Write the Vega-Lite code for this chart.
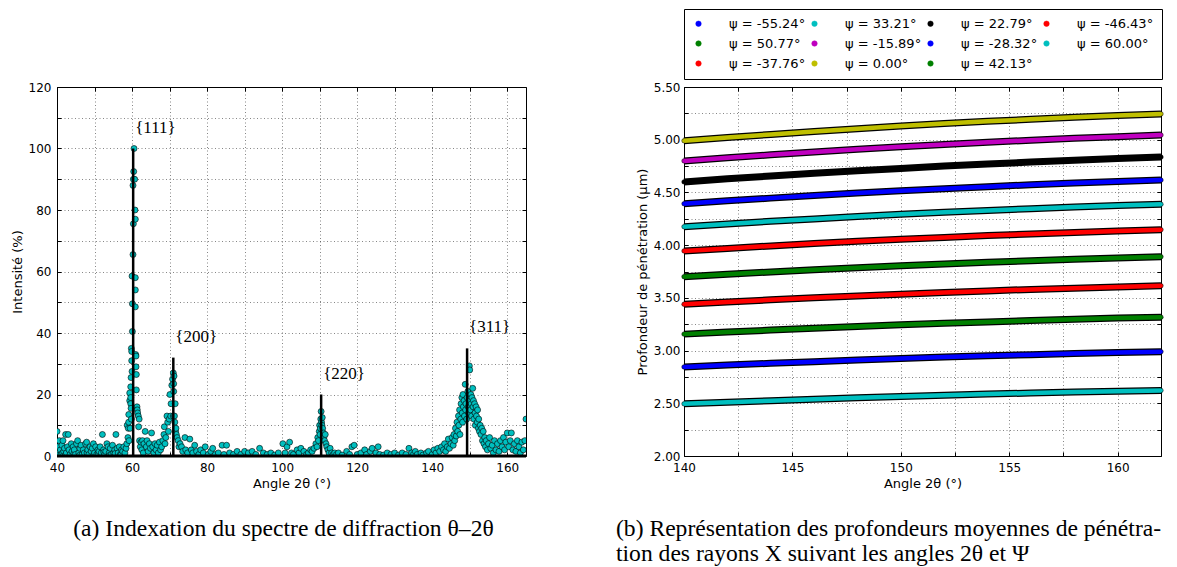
{
  "$schema": "https://vega.github.io/schema/vega-lite/v6.json",
  "background": "white",
  "padding": {"left": 10, "top": 8, "right": 5, "bottom": 5},
  "bounds": "flush",
  "spacing": 158,
  "resolve": {"legend": {"fill": "independent", "color": "independent"}, "scale": {"fill": "independent", "color": "independent"}},
  "config": {
    "view": {"stroke": "black", "strokeWidth": 1},
    "axis": {
      "domain": false,
      "labelFont": "DejaVu Sans", "labelFontSize": 12, "labelColor": "black",
      "labelFlush": false, "labelOverlap": false,
      "titleFont": "DejaVu Sans", "titleFontSize": 13, "titleFontWeight": "normal", "titleColor": "black",
      "tickColor": "black", "tickSize": -4, "tickWidth": 1, "labelPadding": 8,
      "gridColor": "black", "gridOpacity": 0.6, "gridDash": [1, 2.5], "gridWidth": 0.8
    },
    "axisBottom": {"labelPadding": 10},
    "title": {"font": "Liberation Serif", "fontSize": 23.6, "fontWeight": "normal", "color": "black"}
  },
  "datasets": {
    "pics": [
      {"hkl": "{111}", "angle": 60.3, "top": 100},
      {"hkl": "{200}", "angle": 71.0, "top": 32},
      {"hkl": "{220}", "angle": 110.4, "top": 20},
      {"hkl": "{311}", "angle": 149.3, "top": 35}
    ],
    "spectre": [
      {"angle":40.0,"intensity":8},{"angle":40.2,"intensity":3},{"angle":40.4,"intensity":1},{"angle":40.5,"intensity":0.2},{"angle":40.6,"intensity":5},{"angle":40.9,"intensity":2},{"angle":41.1,"intensity":0.5},{"angle":41.3,"intensity":3.5},{"angle":41.5,"intensity":1},{"angle":41.6,"intensity":5},{"angle":41.8,"intensity":1.5},{"angle":42.0,"intensity":2.5},{"angle":42.2,"intensity":0.3},{"angle":42.3,"intensity":7},{"angle":42.5,"intensity":1},{"angle":42.8,"intensity":3},{"angle":43.0,"intensity":7},{"angle":43.2,"intensity":2},{"angle":43.5,"intensity":0.5},{"angle":43.8,"intensity":4},{"angle":44.0,"intensity":1.5},{"angle":44.3,"intensity":3},{"angle":44.5,"intensity":0.8},{"angle":44.6,"intensity":2},{"angle":44.9,"intensity":0.5},{"angle":45.2,"intensity":4},{"angle":45.5,"intensity":5},{"angle":45.8,"intensity":1},{"angle":46.0,"intensity":0.2},{"angle":46.1,"intensity":2.5},{"angle":46.4,"intensity":3.5},{"angle":46.7,"intensity":0.5},{"angle":47.0,"intensity":2},{"angle":47.3,"intensity":1},{"angle":47.6,"intensity":4},{"angle":47.9,"intensity":4.5},{"angle":48.0,"intensity":1},{"angle":48.2,"intensity":2},{"angle":48.5,"intensity":0.5},{"angle":48.8,"intensity":3},{"angle":49.1,"intensity":1.5},{"angle":49.4,"intensity":2.5},{"angle":49.7,"intensity":4},{"angle":49.8,"intensity":0.3},{"angle":50.0,"intensity":1},{"angle":50.3,"intensity":3},{"angle":50.6,"intensity":0.5},{"angle":50.9,"intensity":2},{"angle":51.0,"intensity":0.5},{"angle":51.2,"intensity":1.5},{"angle":51.5,"intensity":3},{"angle":51.8,"intensity":1},{"angle":52.1,"intensity":7},{"angle":52.4,"intensity":2},{"angle":52.5,"intensity":1.2},{"angle":52.7,"intensity":0.5},{"angle":53.0,"intensity":1.5},{"angle":53.3,"intensity":4},{"angle":53.6,"intensity":3},{"angle":53.9,"intensity":1},{"angle":54.0,"intensity":0.2},{"angle":54.2,"intensity":2.5},{"angle":54.5,"intensity":0.5},{"angle":54.8,"intensity":3.5},{"angle":55.1,"intensity":1},{"angle":55.4,"intensity":2},{"angle":55.5,"intensity":0.8},{"angle":55.7,"intensity":7},{"angle":56.0,"intensity":2.5},{"angle":56.3,"intensity":1},{"angle":56.6,"intensity":3},{"angle":56.9,"intensity":0.5},{"angle":57.0,"intensity":0.3},{"angle":57.2,"intensity":2},{"angle":57.5,"intensity":1.5},{"angle":57.8,"intensity":3},{"angle":58.1,"intensity":1},{"angle":58.4,"intensity":2.5},{"angle":58.6,"intensity":4},{"angle":58.7,"intensity":10},{"angle":58.9,"intensity":6},{"angle":59.0,"intensity":9},{"angle":59.1,"intensity":11},{"angle":59.12,"intensity":13.5},{"angle":59.2,"intensity":5},{"angle":59.38,"intensity":20.5},{"angle":59.38,"intensity":18},{"angle":59.5,"intensity":9},{"angle":59.65,"intensity":22.5},{"angle":59.65,"intensity":19},{"angle":59.65,"intensity":17},{"angle":59.74,"intensity":25.5},{"angle":59.74,"intensity":15.5},{"angle":59.82,"intensity":35},{"angle":59.82,"intensity":12},{"angle":59.91,"intensity":31},{"angle":59.91,"intensity":34},{"angle":60.0,"intensity":58.5},{"angle":60.0,"intensity":27.5},{"angle":60.09,"intensity":49.5},{"angle":60.09,"intensity":40.5},{"angle":60.26,"intensity":88},{"angle":60.26,"intensity":65.5},{"angle":60.35,"intensity":90},{"angle":60.35,"intensity":75.5},{"angle":60.44,"intensity":92.5},{"angle":60.53,"intensity":100},{"angle":60.7,"intensity":90},{"angle":60.79,"intensity":80},{"angle":60.88,"intensity":77},{"angle":60.88,"intensity":58},{"angle":60.88,"intensity":54},{"angle":60.88,"intensity":48.5},{"angle":60.97,"intensity":33},{"angle":61.06,"intensity":29},{"angle":61.06,"intensity":32.5},{"angle":61.15,"intensity":26.5},{"angle":61.15,"intensity":21.5},{"angle":61.32,"intensity":16},{"angle":61.4,"intensity":15},{"angle":61.5,"intensity":14},{"angle":61.67,"intensity":13},{"angle":61.76,"intensity":9.5},{"angle":61.9,"intensity":12},{"angle":62.0,"intensity":5},{"angle":62.2,"intensity":3},{"angle":62.4,"intensity":4.5},{"angle":62.6,"intensity":2},{"angle":62.8,"intensity":5},{"angle":63.0,"intensity":1},{"angle":63.2,"intensity":4},{"angle":63.5,"intensity":8},{"angle":63.8,"intensity":3},{"angle":64.0,"intensity":5},{"angle":64.3,"intensity":1.5},{"angle":64.6,"intensity":4},{"angle":64.9,"intensity":2.5},{"angle":65.2,"intensity":7.5},{"angle":65.5,"intensity":3},{"angle":65.8,"intensity":1},{"angle":66.1,"intensity":4},{"angle":66.4,"intensity":2},{"angle":66.7,"intensity":3.5},{"angle":67.0,"intensity":1},{"angle":67.3,"intensity":4.5},{"angle":67.6,"intensity":2},{"angle":67.9,"intensity":3},{"angle":68.2,"intensity":5},{"angle":68.5,"intensity":7},{"angle":68.6,"intensity":9.5},{"angle":68.8,"intensity":4},{"angle":69.0,"intensity":6},{"angle":69.3,"intensity":13},{"angle":69.5,"intensity":11},{"angle":69.7,"intensity":8},{"angle":69.9,"intensity":12},{"angle":70.1,"intensity":20},{"angle":70.3,"intensity":13},{"angle":70.4,"intensity":17},{"angle":70.6,"intensity":23},{"angle":70.8,"intensity":25},{"angle":71.0,"intensity":27},{"angle":71.0,"intensity":13},{"angle":71.1,"intensity":23.5},{"angle":71.1,"intensity":21},{"angle":71.2,"intensity":26},{"angle":71.3,"intensity":13},{"angle":71.4,"intensity":11},{"angle":71.5,"intensity":17},{"angle":71.6,"intensity":8},{"angle":71.7,"intensity":9},{"angle":71.8,"intensity":7},{"angle":72.0,"intensity":6},{"angle":72.3,"intensity":5},{"angle":72.5,"intensity":3},{"angle":72.8,"intensity":4},{"angle":73.2,"intensity":3},{"angle":73.5,"intensity":1.5},{"angle":74.1,"intensity":6},{"angle":74.3,"intensity":2},{"angle":74.8,"intensity":1},{"angle":75.4,"intensity":5.5},{"angle":75.8,"intensity":2},{"angle":76.2,"intensity":1},{"angle":76.7,"intensity":3.5},{"angle":77.2,"intensity":1.5},{"angle":77.8,"intensity":0.5},{"angle":78.3,"intensity":2},{"angle":79.0,"intensity":1},{"angle":79.5,"intensity":3},{"angle":80.3,"intensity":0.5},{"angle":81.0,"intensity":1.5},{"angle":81.5,"intensity":2.5},{"angle":82.2,"intensity":0.5},{"angle":83.0,"intensity":1},{"angle":84.0,"intensity":3.5},{"angle":84.5,"intensity":0.5},{"angle":85.2,"intensity":3.5},{"angle":86.0,"intensity":1},{"angle":87.0,"intensity":0.5},{"angle":88.0,"intensity":1.5},{"angle":89.0,"intensity":0.5},{"angle":90.0,"intensity":1.5},{"angle":91.0,"intensity":1},{"angle":92.0,"intensity":1.5},{"angle":93.0,"intensity":0.5},{"angle":94.0,"intensity":2.5},{"angle":95.0,"intensity":1},{"angle":96.0,"intensity":0.5},{"angle":97.0,"intensity":1},{"angle":98.0,"intensity":0.3},{"angle":99.0,"intensity":1},{"angle":100.2,"intensity":4},{"angle":100.8,"intensity":1},{"angle":101.3,"intensity":3},{"angle":102.0,"intensity":4.5},{"angle":102.5,"intensity":1},{"angle":103.0,"intensity":0.5},{"angle":104.0,"intensity":2},{"angle":104.5,"intensity":1},{"angle":105.0,"intensity":2.5},{"angle":105.8,"intensity":1.5},{"angle":106.5,"intensity":0.5},{"angle":107.0,"intensity":1},{"angle":107.6,"intensity":2},{"angle":108.0,"intensity":1.5},{"angle":108.5,"intensity":2.5},{"angle":109.0,"intensity":4},{"angle":109.3,"intensity":3},{"angle":109.5,"intensity":6},{"angle":109.7,"intensity":5},{"angle":109.9,"intensity":8},{"angle":110.0,"intensity":10},{"angle":110.1,"intensity":7},{"angle":110.2,"intensity":9},{"angle":110.3,"intensity":12},{"angle":110.4,"intensity":14.5},{"angle":110.5,"intensity":11},{"angle":110.6,"intensity":10},{"angle":110.7,"intensity":12.5},{"angle":110.8,"intensity":9},{"angle":111.0,"intensity":7.5},{"angle":111.1,"intensity":6},{"angle":111.3,"intensity":5},{"angle":111.5,"intensity":7},{"angle":111.7,"intensity":4},{"angle":111.9,"intensity":3},{"angle":112.2,"intensity":2},{"angle":112.5,"intensity":1},{"angle":112.8,"intensity":2.5},{"angle":113.2,"intensity":1},{"angle":113.6,"intensity":0.5},{"angle":114.0,"intensity":1},{"angle":114.5,"intensity":0.5},{"angle":115.0,"intensity":1},{"angle":116.0,"intensity":0.3},{"angle":117.2,"intensity":1.5},{"angle":118.0,"intensity":0.5},{"angle":118.6,"intensity":3},{"angle":119.2,"intensity":3.5},{"angle":120.0,"intensity":0.5},{"angle":121.0,"intensity":1},{"angle":122.0,"intensity":2},{"angle":122.5,"intensity":0.5},{"angle":123.5,"intensity":1.5},{"angle":124.0,"intensity":2.5},{"angle":125.0,"intensity":1},{"angle":125.6,"intensity":3},{"angle":126.0,"intensity":0.5},{"angle":127.0,"intensity":0.3},{"angle":128.0,"intensity":1},{"angle":129.0,"intensity":0.5},{"angle":130.0,"intensity":1},{"angle":131.0,"intensity":0.3},{"angle":132.0,"intensity":1},{"angle":133.0,"intensity":0.5},{"angle":133.8,"intensity":2.5},{"angle":134.5,"intensity":1},{"angle":135.0,"intensity":0.5},{"angle":135.5,"intensity":1.5},{"angle":136.0,"intensity":0.5},{"angle":137.0,"intensity":1},{"angle":137.5,"intensity":0.3},{"angle":138.5,"intensity":1},{"angle":139.0,"intensity":1.5},{"angle":140.0,"intensity":0.5},{"angle":140.5,"intensity":2},{"angle":141.0,"intensity":1},{"angle":141.5,"intensity":2.5},{"angle":142.0,"intensity":1.5},{"angle":142.5,"intensity":3},{"angle":143.0,"intensity":2},{"angle":143.3,"intensity":4},{"angle":143.6,"intensity":1.5},{"angle":144.0,"intensity":3},{"angle":144.3,"intensity":5.5},{"angle":144.6,"intensity":2.5},{"angle":145.0,"intensity":4},{"angle":145.3,"intensity":6},{"angle":145.6,"intensity":3.5},{"angle":145.8,"intensity":7},{"angle":146.0,"intensity":5},{"angle":146.2,"intensity":9},{"angle":146.4,"intensity":6.5},{"angle":146.6,"intensity":11},{"angle":146.8,"intensity":8},{"angle":147.0,"intensity":13},{"angle":147.1,"intensity":10},{"angle":147.3,"intensity":15},{"angle":147.4,"intensity":7},{"angle":147.6,"intensity":12},{"angle":147.7,"intensity":17},{"angle":147.9,"intensity":19},{"angle":148.0,"intensity":14},{"angle":148.1,"intensity":11},{"angle":148.2,"intensity":20},{"angle":148.3,"intensity":16},{"angle":148.5,"intensity":18},{"angle":148.6,"intensity":13},{"angle":148.8,"intensity":23.3},{"angle":148.9,"intensity":15},{"angle":149.0,"intensity":17},{"angle":149.2,"intensity":12},{"angle":149.3,"intensity":19},{"angle":149.5,"intensity":21},{"angle":149.6,"intensity":16},{"angle":149.7,"intensity":14},{"angle":149.9,"intensity":29.3},{"angle":150.0,"intensity":28},{"angle":150.1,"intensity":18},{"angle":150.2,"intensity":15},{"angle":150.3,"intensity":20},{"angle":150.4,"intensity":17},{"angle":150.5,"intensity":13},{"angle":150.6,"intensity":19},{"angle":150.8,"intensity":22},{"angle":150.9,"intensity":16},{"angle":151.0,"intensity":18},{"angle":151.1,"intensity":12},{"angle":151.3,"intensity":17},{"angle":151.4,"intensity":14},{"angle":151.5,"intensity":10},{"angle":151.7,"intensity":16},{"angle":151.8,"intensity":13},{"angle":152.0,"intensity":11},{"angle":152.1,"intensity":15},{"angle":152.3,"intensity":9},{"angle":152.4,"intensity":12},{"angle":152.6,"intensity":8},{"angle":152.8,"intensity":10},{"angle":153.0,"intensity":7},{"angle":153.2,"intensity":9},{"angle":153.4,"intensity":5},{"angle":153.6,"intensity":8},{"angle":153.8,"intensity":4},{"angle":154.0,"intensity":6},{"angle":154.2,"intensity":3},{"angle":154.4,"intensity":5},{"angle":154.7,"intensity":2},{"angle":155.0,"intensity":4},{"angle":155.3,"intensity":6},{"angle":155.6,"intensity":2.5},{"angle":156.0,"intensity":3.5},{"angle":156.3,"intensity":1},{"angle":156.6,"intensity":5},{"angle":157.0,"intensity":2},{"angle":157.4,"intensity":4},{"angle":157.8,"intensity":1.5},{"angle":158.2,"intensity":5},{"angle":158.6,"intensity":3},{"angle":159.0,"intensity":6},{"angle":159.3,"intensity":2},{"angle":159.6,"intensity":4.5},{"angle":160.0,"intensity":7.5},{"angle":160.4,"intensity":3},{"angle":160.8,"intensity":5},{"angle":161.1,"intensity":7.5},{"angle":161.5,"intensity":2},{"angle":161.9,"intensity":4},{"angle":162.3,"intensity":1.5},{"angle":162.7,"intensity":5},{"angle":163.1,"intensity":3},{"angle":163.5,"intensity":1},{"angle":163.9,"intensity":4.5},{"angle":164.3,"intensity":2},{"angle":164.7,"intensity":5},{"angle":165.0,"intensity":12}
    ],
    "profondeur": [
      {"psi":"ψ = 0.00°","angle":140,"depth":4.990},{"psi":"ψ = 0.00°","angle":142,"depth":5.021},{"psi":"ψ = 0.00°","angle":144,"depth":5.050},{"psi":"ψ = 0.00°","angle":146,"depth":5.078},{"psi":"ψ = 0.00°","angle":148,"depth":5.105},{"psi":"ψ = 0.00°","angle":150,"depth":5.129},{"psi":"ψ = 0.00°","angle":152,"depth":5.153},{"psi":"ψ = 0.00°","angle":154,"depth":5.174},{"psi":"ψ = 0.00°","angle":156,"depth":5.194},{"psi":"ψ = 0.00°","angle":158,"depth":5.213},{"psi":"ψ = 0.00°","angle":160,"depth":5.230},{"psi":"ψ = 0.00°","angle":162,"depth":5.245},
      {"psi":"ψ = -15.89°","angle":140,"depth":4.799},{"psi":"ψ = -15.89°","angle":142,"depth":4.829},{"psi":"ψ = -15.89°","angle":144,"depth":4.857},{"psi":"ψ = -15.89°","angle":146,"depth":4.884},{"psi":"ψ = -15.89°","angle":148,"depth":4.909},{"psi":"ψ = -15.89°","angle":150,"depth":4.933},{"psi":"ψ = -15.89°","angle":152,"depth":4.955},{"psi":"ψ = -15.89°","angle":154,"depth":4.976},{"psi":"ψ = -15.89°","angle":156,"depth":4.995},{"psi":"ψ = -15.89°","angle":158,"depth":5.013},{"psi":"ψ = -15.89°","angle":160,"depth":5.029},{"psi":"ψ = -15.89°","angle":162,"depth":5.044},
      {"psi":"ψ = 22.79°","angle":140,"depth":4.600},{"psi":"ψ = 22.79°","angle":142,"depth":4.629},{"psi":"ψ = 22.79°","angle":144,"depth":4.656},{"psi":"ψ = 22.79°","angle":146,"depth":4.681},{"psi":"ψ = 22.79°","angle":148,"depth":4.706},{"psi":"ψ = 22.79°","angle":150,"depth":4.728},{"psi":"ψ = 22.79°","angle":152,"depth":4.750},{"psi":"ψ = 22.79°","angle":154,"depth":4.770},{"psi":"ψ = 22.79°","angle":156,"depth":4.788},{"psi":"ψ = 22.79°","angle":158,"depth":4.805},{"psi":"ψ = 22.79°","angle":160,"depth":4.821},{"psi":"ψ = 22.79°","angle":162,"depth":4.835},
      {"psi":"ψ = -28.32°","angle":140,"depth":4.393},{"psi":"ψ = -28.32°","angle":142,"depth":4.420},{"psi":"ψ = -28.32°","angle":144,"depth":4.446},{"psi":"ψ = -28.32°","angle":146,"depth":4.471},{"psi":"ψ = -28.32°","angle":148,"depth":4.494},{"psi":"ψ = -28.32°","angle":150,"depth":4.516},{"psi":"ψ = -28.32°","angle":152,"depth":4.536},{"psi":"ψ = -28.32°","angle":154,"depth":4.555},{"psi":"ψ = -28.32°","angle":156,"depth":4.573},{"psi":"ψ = -28.32°","angle":158,"depth":4.589},{"psi":"ψ = -28.32°","angle":160,"depth":4.604},{"psi":"ψ = -28.32°","angle":162,"depth":4.617},
      {"psi":"ψ = 33.21°","angle":140,"depth":4.175},{"psi":"ψ = 33.21°","angle":142,"depth":4.201},{"psi":"ψ = 33.21°","angle":144,"depth":4.226},{"psi":"ψ = 33.21°","angle":146,"depth":4.249},{"psi":"ψ = 33.21°","angle":148,"depth":4.271},{"psi":"ψ = 33.21°","angle":150,"depth":4.292},{"psi":"ψ = 33.21°","angle":152,"depth":4.311},{"psi":"ψ = 33.21°","angle":154,"depth":4.329},{"psi":"ψ = 33.21°","angle":156,"depth":4.346},{"psi":"ψ = 33.21°","angle":158,"depth":4.361},{"psi":"ψ = 33.21°","angle":160,"depth":4.375},{"psi":"ψ = 33.21°","angle":162,"depth":4.388},
      {"psi":"ψ = -37.76°","angle":140,"depth":3.945},{"psi":"ψ = -37.76°","angle":142,"depth":3.969},{"psi":"ψ = -37.76°","angle":144,"depth":3.993},{"psi":"ψ = -37.76°","angle":146,"depth":4.015},{"psi":"ψ = -37.76°","angle":148,"depth":4.036},{"psi":"ψ = -37.76°","angle":150,"depth":4.055},{"psi":"ψ = -37.76°","angle":152,"depth":4.073},{"psi":"ψ = -37.76°","angle":154,"depth":4.091},{"psi":"ψ = -37.76°","angle":156,"depth":4.106},{"psi":"ψ = -37.76°","angle":158,"depth":4.121},{"psi":"ψ = -37.76°","angle":160,"depth":4.134},{"psi":"ψ = -37.76°","angle":162,"depth":4.147},
      {"psi":"ψ = 42.13°","angle":140,"depth":3.701},{"psi":"ψ = 42.13°","angle":142,"depth":3.724},{"psi":"ψ = 42.13°","angle":144,"depth":3.746},{"psi":"ψ = 42.13°","angle":146,"depth":3.766},{"psi":"ψ = 42.13°","angle":148,"depth":3.786},{"psi":"ψ = 42.13°","angle":150,"depth":3.804},{"psi":"ψ = 42.13°","angle":152,"depth":3.822},{"psi":"ψ = 42.13°","angle":154,"depth":3.838},{"psi":"ψ = 42.13°","angle":156,"depth":3.852},{"psi":"ψ = 42.13°","angle":158,"depth":3.866},{"psi":"ψ = 42.13°","angle":160,"depth":3.879},{"psi":"ψ = 42.13°","angle":162,"depth":3.890},
      {"psi":"ψ = -46.43°","angle":140,"depth":3.439},{"psi":"ψ = -46.43°","angle":142,"depth":3.460},{"psi":"ψ = -46.43°","angle":144,"depth":3.481},{"psi":"ψ = -46.43°","angle":146,"depth":3.500},{"psi":"ψ = -46.43°","angle":148,"depth":3.518},{"psi":"ψ = -46.43°","angle":150,"depth":3.535},{"psi":"ψ = -46.43°","angle":152,"depth":3.551},{"psi":"ψ = -46.43°","angle":154,"depth":3.566},{"psi":"ψ = -46.43°","angle":156,"depth":3.580},{"psi":"ψ = -46.43°","angle":158,"depth":3.592},{"psi":"ψ = -46.43°","angle":160,"depth":3.604},{"psi":"ψ = -46.43°","angle":162,"depth":3.615},
      {"psi":"ψ = 50.77°","angle":140,"depth":3.156},{"psi":"ψ = 50.77°","angle":142,"depth":3.176},{"psi":"ψ = 50.77°","angle":144,"depth":3.194},{"psi":"ψ = 50.77°","angle":146,"depth":3.212},{"psi":"ψ = 50.77°","angle":148,"depth":3.228},{"psi":"ψ = 50.77°","angle":150,"depth":3.244},{"psi":"ψ = 50.77°","angle":152,"depth":3.259},{"psi":"ψ = 50.77°","angle":154,"depth":3.272},{"psi":"ψ = 50.77°","angle":156,"depth":3.285},{"psi":"ψ = 50.77°","angle":158,"depth":3.297},{"psi":"ψ = 50.77°","angle":160,"depth":3.308},{"psi":"ψ = 50.77°","angle":162,"depth":3.317},
      {"psi":"ψ = -55.24°","angle":140,"depth":2.845},{"psi":"ψ = -55.24°","angle":142,"depth":2.863},{"psi":"ψ = -55.24°","angle":144,"depth":2.879},{"psi":"ψ = -55.24°","angle":146,"depth":2.895},{"psi":"ψ = -55.24°","angle":148,"depth":2.910},{"psi":"ψ = -55.24°","angle":150,"depth":2.924},{"psi":"ψ = -55.24°","angle":152,"depth":2.938},{"psi":"ψ = -55.24°","angle":154,"depth":2.950},{"psi":"ψ = -55.24°","angle":156,"depth":2.961},{"psi":"ψ = -55.24°","angle":158,"depth":2.972},{"psi":"ψ = -55.24°","angle":160,"depth":2.982},{"psi":"ψ = -55.24°","angle":162,"depth":2.990},
      {"psi":"ψ = 60.00°","angle":140,"depth":2.495},{"psi":"ψ = 60.00°","angle":142,"depth":2.510},{"psi":"ψ = 60.00°","angle":144,"depth":2.525},{"psi":"ψ = 60.00°","angle":146,"depth":2.539},{"psi":"ψ = 60.00°","angle":148,"depth":2.552},{"psi":"ψ = 60.00°","angle":150,"depth":2.565},{"psi":"ψ = 60.00°","angle":152,"depth":2.576},{"psi":"ψ = 60.00°","angle":154,"depth":2.587},{"psi":"ψ = 60.00°","angle":156,"depth":2.597},{"psi":"ψ = 60.00°","angle":158,"depth":2.606},{"psi":"ψ = 60.00°","angle":160,"depth":2.615},{"psi":"ψ = 60.00°","angle":162,"depth":2.622}
    ]
  },
  "hconcat": [
    {
      "width": 469,
      "height": 369,
      "title": {"text": "(a) Indexation du spectre de diffraction θ–2θ", "orient": "bottom", "anchor": "middle", "frame": "group", "dx": -8, "offset": 27},
      "layer": [
        {
          "data": {"name": "spectre"},
          "mark": {"type": "point", "filled": true, "fill": "#00bfbf", "stroke": "black", "strokeWidth": 0.6, "size": 36, "opacity": 1, "clip": true},
          "encoding": {
            "x": {"field": "angle", "type": "quantitative", "scale": {"domain": [40, 165], "nice": false, "zero": false},
                  "axis": {"orient": "bottom", "title": "Angle 2θ (°)", "values": [40,50,60,70,80,90,100,110,120,130,140,150,160], "labelExpr": "datum.value % 20 == 0 ? datum.label : ''", "grid": true}},
            "y": {"field": "intensity", "type": "quantitative", "scale": {"domain": [0, 120], "nice": false},
                  "axis": {"orient": "left", "title": "Intensité (%)", "labelPadding": 10, "values": [0,10,20,30,40,50,60,70,80,90,100,110,120], "labelExpr": "datum.value % 20 == 0 ? datum.label : ''", "grid": true}}
          }
        },
        {
          "data": {"values": [{}]},
          "mark": {"type": "rule", "color": "black", "strokeWidth": 3},
          "encoding": {"y": {"datum": 0, "type": "quantitative", "axis": null}}
        },
        {
          "data": {"name": "pics"},
          "mark": {"type": "rule", "color": "black", "strokeWidth": 2.5},
          "encoding": {
            "x": {"field": "angle", "type": "quantitative", "axis": {"orient": "top", "labels": false, "title": null, "grid": false, "values": [40,50,60,70,80,90,100,110,120,130,140,150,160]}},
            "y": {"field": "top", "type": "quantitative", "axis": {"orient": "right", "labels": false, "title": null, "grid": false, "values": [0,10,20,30,40,50,60,70,80,90,100,110,120]}},
            "y2": {"datum": 0}
          }
        },
        {
          "data": {"name": "pics"},
          "mark": {"type": "text", "font": "Liberation Serif", "fontSize": 17, "align": "left", "baseline": "middle", "dx": 2, "dy": -21, "color": "black"},
          "encoding": {
            "x": {"field": "angle", "type": "quantitative", "axis": null},
            "y": {"field": "top", "type": "quantitative", "axis": null},
            "text": {"field": "hkl"}
          }
        }
      ],
      "resolve": {"axis": {"x": "independent", "y": "independent"}}
    },
    {
      "width": 477,
      "height": 369,
      "title": {"text": ["(b) Représentation des profondeurs moyennes de pénétra-", "tion des rayons X suivant les angles 2θ et Ψ"], "orient": "bottom", "anchor": "start", "frame": "group", "dx": -68, "offset": 27, "lineHeight": 25},
      "data": {"name": "profondeur"},
      "layer": [
        {
          "mark": {"type": "point", "filled": true, "size": 20, "stroke": "black", "strokeWidth": 0.5, "opacity": 1},
          "encoding": {
            "x": {"field": "angle", "type": "quantitative", "scale": {"domain": [140, 162], "nice": false, "zero": false},
                  "axis": {"orient": "bottom", "title": "Angle 2θ (°)", "values": [140,142.5,145,147.5,150,152.5,155,157.5,160], "labelExpr": "datum.value % 5 == 0 ? datum.label : ''", "grid": true}},
            "y": {"field": "depth", "type": "quantitative", "scale": {"domain": [2, 5.5], "nice": false, "zero": false},
                  "axis": {"orient": "left", "title": "Profondeur de pénétration (µm)", "format": ".2f", "values": [2,2.25,2.5,2.75,3,3.25,3.5,3.75,4,4.25,4.5,4.75,5,5.25,5.5], "labelExpr": "(datum.value * 4) % 2 == 0 ? datum.label : ''", "grid": true}},
            "fill": {"field": "psi", "type": "nominal",
                     "scale": {"domain": ["ψ = -55.24°","ψ = 33.21°","ψ = 22.79°","ψ = -46.43°","ψ = 50.77°","ψ = -15.89°","ψ = -28.32°","ψ = 60.00°","ψ = -37.76°","ψ = 0.00°","ψ = 42.13°"],
                               "range": ["#0000ff","#00bfbf","#000000","#ff0000","#008000","#bf00bf","#0000ff","#00bfbf","#ff0000","#bfbf00","#008000"]},
                     "legend": {"title": null, "orient": "top", "columns": 4, "gridAlign": "all", "strokeColor": "black", "padding": 8, "offset": 7,
                                "symbolType": "circle", "symbolSize": 30, "symbolStrokeColor": "black", "symbolStrokeWidth": 0.5, "symbolOpacity": 1,
                                "labelFont": "DejaVu Sans", "labelFontSize": 13, "labelColor": "black", "labelOffset": 24, "labelLimit": 200,
                                "rowPadding": 6, "columnPadding": 2}}
          }
        },
        {
          "mark": {"type": "line", "color": "black", "strokeWidth": 7},
          "encoding": {
            "x": {"field": "angle", "type": "quantitative", "axis": {"orient": "top", "labels": false, "title": null, "grid": false, "values": [140,142.5,145,147.5,150,152.5,155,157.5,160]}},
            "y": {"field": "depth", "type": "quantitative", "axis": {"orient": "right", "labels": false, "title": null, "grid": false, "values": [2,2.25,2.5,2.75,3,3.25,3.5,3.75,4,4.25,4.5,4.75,5,5.25,5.5]}},
            "detail": {"field": "psi"}
          }
        },
        {
          "mark": {"type": "line", "strokeWidth": 4.5},
          "encoding": {
            "x": {"field": "angle", "type": "quantitative", "axis": null},
            "y": {"field": "depth", "type": "quantitative", "axis": null},
            "color": {"field": "psi", "type": "nominal",
                      "scale": {"domain": ["ψ = -55.24°","ψ = 33.21°","ψ = 22.79°","ψ = -46.43°","ψ = 50.77°","ψ = -15.89°","ψ = -28.32°","ψ = 60.00°","ψ = -37.76°","ψ = 0.00°","ψ = 42.13°"],
                                "range": ["#0000ff","#00bfbf","#000000","#ff0000","#008000","#bf00bf","#0000ff","#00bfbf","#ff0000","#bfbf00","#008000"]},
                      "legend": null}
          }
        }
      ],
      "resolve": {"axis": {"x": "independent", "y": "independent"}}
    }
  ]
}
